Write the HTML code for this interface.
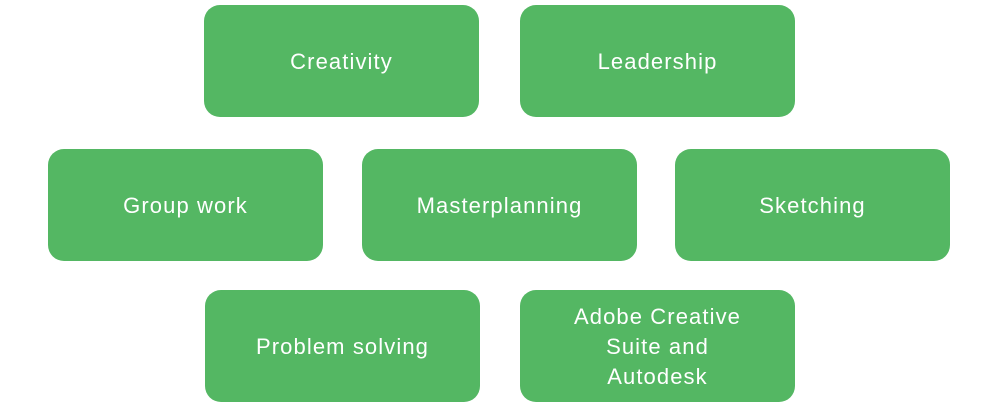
<!DOCTYPE html>
<html><head><style>
body{margin:0;width:1000px;height:410px;background:#fff;position:relative;overflow:hidden}
.b{position:absolute;width:275px;height:112px;background:#54b763;border-radius:16px;color:#fff;
font-family:"Liberation Sans",sans-serif;font-size:22px;line-height:30px;display:flex;align-items:center;justify-content:center;text-align:center;letter-spacing:1.1px;padding-top:2px;box-sizing:border-box}
</style></head><body>
<div class="b" style="left:204px;top:5px">Creativity</div>
<div class="b" style="left:520px;top:5px">Leadership</div>
<div class="b" style="left:48px;top:149px">Group work</div>
<div class="b" style="left:362px;top:149px">Masterplanning</div>
<div class="b" style="left:675px;top:149px">Sketching</div>
<div class="b" style="left:205px;top:290px">Problem solving</div>
<div class="b" style="left:520px;top:290px">Adobe Creative<br>Suite and<br>Autodesk</div>
</body></html>
